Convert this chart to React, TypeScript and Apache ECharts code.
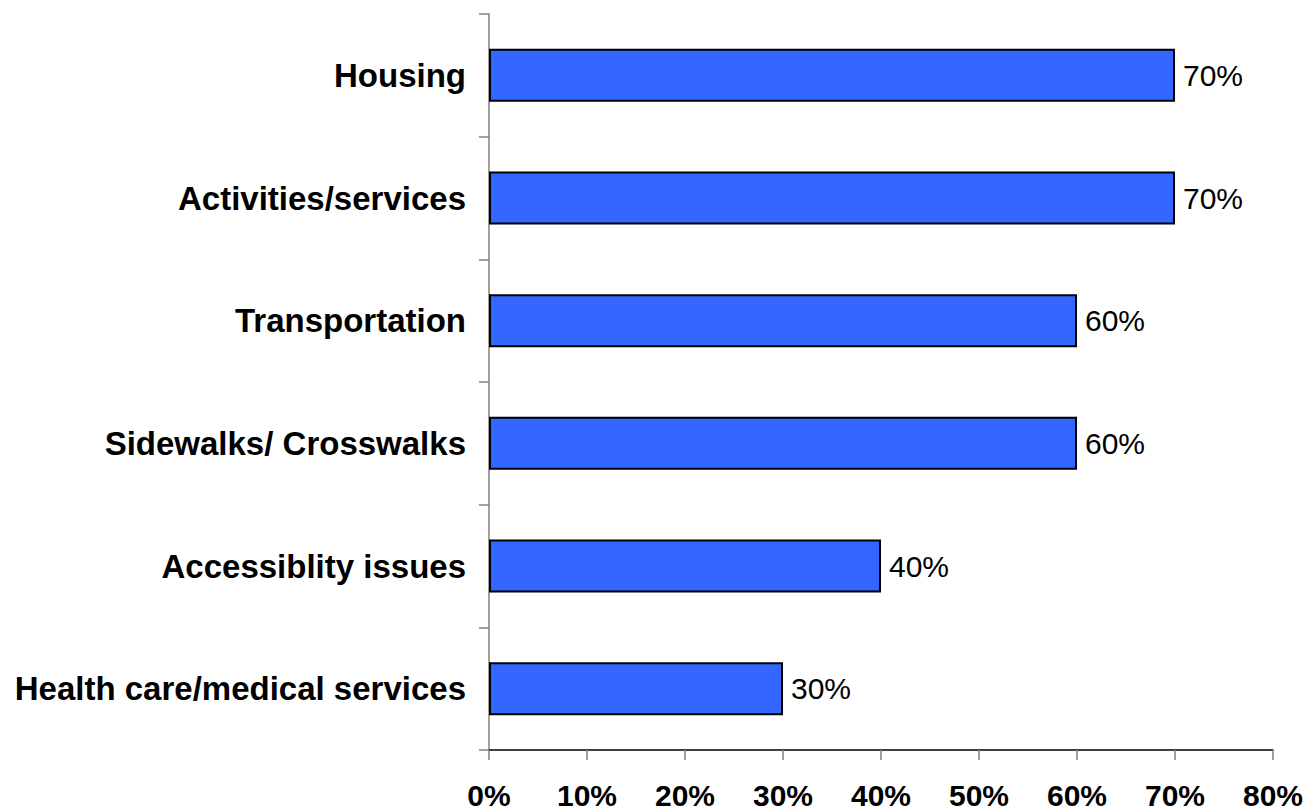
import React, { useEffect, useRef } from "react";
import * as echarts from "echarts";

const categories = [
  "Housing",
  "Activities/services",
  "Transportation",
  "Sidewalks/ Crosswalks",
  "Accessiblity issues",
  "Health care/medical services",
];
const values = [70, 70, 60, 60, 40, 30];
const xTicks = { min: 0, max: 80, interval: 10 };

const FONT = "'Liberation Sans', Arial, Helvetica, sans-serif";

export default function App() {
  const ref = useRef<HTMLDivElement>(null);
  useEffect(() => {
    if (!ref.current) return;
    const chart = echarts.init(ref.current, undefined, { renderer: "svg" });
    chart.setOption({
      animation: false,
      backgroundColor: "#ffffff",
      grid: { left: 489, right: 43, top: 14, bottom: 62, containLabel: false },
      xAxis: {
        type: "value",
        min: xTicks.min,
        max: xTicks.max,
        interval: xTicks.interval,
        splitLine: { show: false },
        axisLine: { show: true, lineStyle: { color: "#000000", width: 1.5 } },
        axisTick: { show: true, length: 10, lineStyle: { color: "#808080", width: 1.5 } },
        axisLabel: {
          formatter: "{value}%",
          color: "#000000",
          fontFamily: FONT,
          fontWeight: "bold",
          fontSize: 30,
          lineHeight: 30,
          margin: 30,
        },
      },
      yAxis: {
        type: "category",
        data: categories,
        inverse: true,
        axisLine: { show: true, lineStyle: { color: "#808080", width: 1.5 } },
        axisTick: { show: true, length: 10, lineStyle: { color: "#808080", width: 1.5 } },
        axisLabel: {
          color: "#000000",
          fontFamily: FONT,
          fontWeight: "bold",
          fontSize: 33,
          margin: 23,
        },
        splitLine: { show: false },
      },
      series: [
        {
          type: "bar",
          data: values,
          barWidth: 53,
          itemStyle: { color: "#3366FF", borderColor: "#000000", borderWidth: 2 },
          label: {
            show: true,
            position: "right",
            distance: 8,
            formatter: "{c}%",
            color: "#000000",
            fontFamily: FONT,
            fontSize: 30,
          },
        },
      ],
    });
    return () => chart.dispose();
  }, []);
  return (
    <div
      ref={ref}
      style={{ position: "fixed", left: 0, top: 0, width: 1316, height: 812 }}
    />
  );
}
